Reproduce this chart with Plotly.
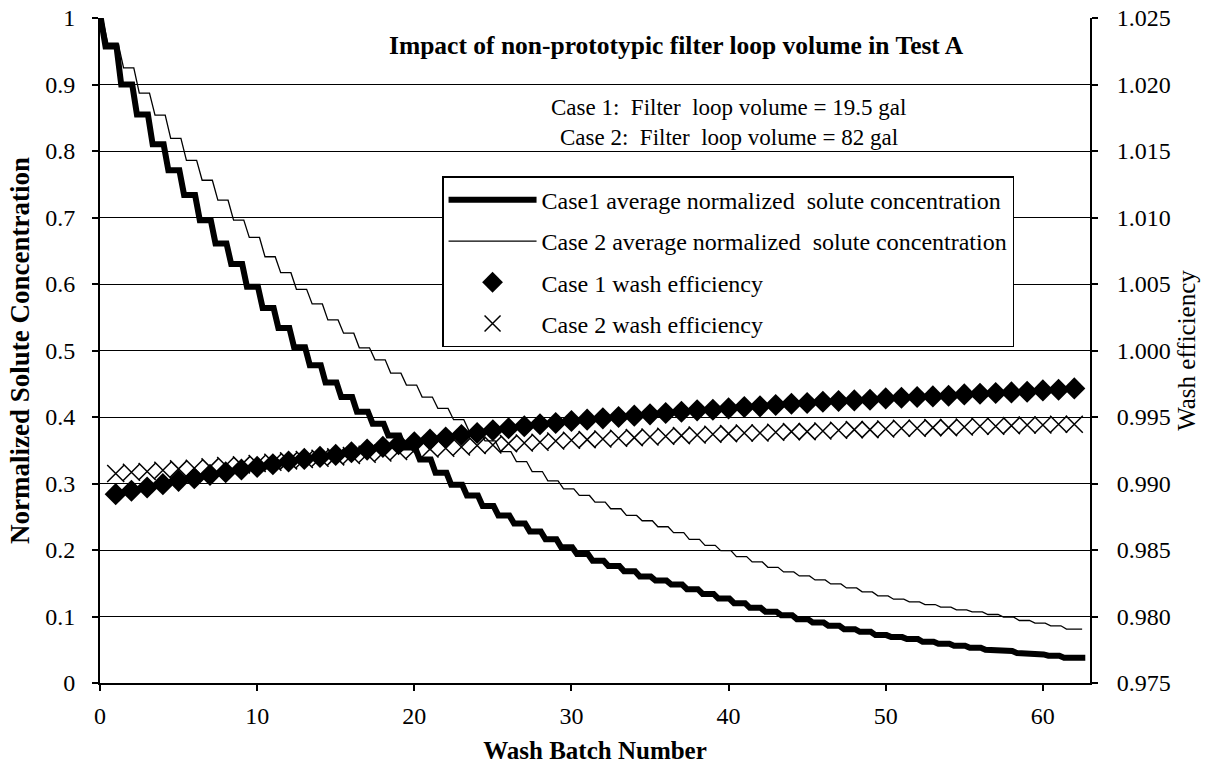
import plotly.graph_objects as go

# ---- data ----
batch = list(range(0, 63))
case1_conc = [1.000, 0.957, 0.900, 0.855, 0.810, 0.771, 0.734, 0.696, 0.661, 0.630,
              0.596, 0.564, 0.534, 0.505, 0.478, 0.452, 0.430, 0.408, 0.390, 0.372,
              0.354, 0.336, 0.316, 0.298, 0.282, 0.266, 0.252, 0.240, 0.228, 0.216,
              0.204, 0.194, 0.184, 0.176, 0.168, 0.160, 0.154, 0.148, 0.141, 0.134,
              0.127, 0.120, 0.113, 0.107, 0.102, 0.096, 0.091, 0.086, 0.081, 0.077,
              0.072, 0.069, 0.066, 0.062, 0.059, 0.056, 0.053, 0.050, 0.048, 0.045,
              0.043, 0.041, 0.038]
case2_conc = [1.000, 0.962, 0.925, 0.887, 0.854, 0.819, 0.786, 0.756, 0.726, 0.696,
              0.670, 0.641, 0.617, 0.592, 0.570, 0.546, 0.526, 0.504, 0.486, 0.466,
              0.448, 0.430, 0.413, 0.396, 0.378, 0.364, 0.348, 0.333, 0.318, 0.304,
              0.292, 0.282, 0.272, 0.262, 0.252, 0.244, 0.235, 0.226, 0.216, 0.207,
              0.199, 0.190, 0.182, 0.174, 0.167, 0.161, 0.155, 0.149, 0.143, 0.137,
              0.131, 0.126, 0.122, 0.118, 0.114, 0.110, 0.107, 0.103, 0.099, 0.094,
              0.090, 0.086, 0.081]

wash_batch = list(range(1, 63))
case1_eff = [0.98920, 0.98945, 0.98970, 0.98995, 0.99020, 0.99040, 0.99065, 0.99085, 0.99105, 0.99125,
             0.99145, 0.99165, 0.99185, 0.99200, 0.99215, 0.99235, 0.99255, 0.99275, 0.99295, 0.99310,
             0.99330, 0.99345, 0.99365, 0.99380, 0.99400, 0.99415, 0.99430, 0.99445, 0.99455, 0.99470,
             0.99480, 0.99490, 0.99500, 0.99510, 0.99520, 0.99530, 0.99540, 0.99550, 0.99555, 0.99565,
             0.99575, 0.99580, 0.99590, 0.99600, 0.99605, 0.99615, 0.99620, 0.99625, 0.99630, 0.99640,
             0.99645, 0.99650, 0.99655, 0.99660, 0.99670, 0.99675, 0.99680, 0.99685, 0.99690, 0.99700,
             0.99705, 0.99715]
case2_eff = [0.99075, 0.99085, 0.99090, 0.99100, 0.99110, 0.99115, 0.99125, 0.99135, 0.99140, 0.99150,
             0.99160, 0.99170, 0.99180, 0.99190, 0.99200, 0.99210, 0.99220, 0.99230, 0.99240, 0.99250,
             0.99260, 0.99265, 0.99275, 0.99285, 0.99290, 0.99300, 0.99305, 0.99310, 0.99320, 0.99325,
             0.99330, 0.99335, 0.99340, 0.99345, 0.99350, 0.99355, 0.99360, 0.99365, 0.99370, 0.99375,
             0.99380, 0.99380, 0.99385, 0.99390, 0.99390, 0.99395, 0.99400, 0.99405, 0.99405, 0.99410,
             0.99415, 0.99415, 0.99420, 0.99420, 0.99425, 0.99430, 0.99430, 0.99435, 0.99440, 0.99440,
             0.99445, 0.99445]

x_ticks = [0, 10, 20, 30, 40, 50, 60]
left_ticks = [0, 0.1, 0.2, 0.3, 0.4, 0.5, 0.6, 0.7, 0.8, 0.9, 1]
right_ticks = [0.975, 0.980, 0.985, 0.990, 0.995, 1.000, 1.005, 1.010, 1.015, 1.020, 1.025]

FONT = "Liberation Serif"


def stair_path(values, drop_start, drop_end, tail):
    """Per-batch values drawn as a staircase: each batch holds its value,
    then the next batch's value is reached over a short slanted drop."""
    xs, ys = [], []
    last = len(values) - 1
    for n, v in enumerate(values):
        start = 0 if n == 0 else n - 1 + drop_end
        end = n + (tail if n == last else drop_start)
        xs += [start, end]
        ys += [v, v]
    return xs, ys


c1x, c1y = stair_path(case1_conc, 0.05, 0.35, 0.7)
c2x, c2y = stair_path(case2_conc, 0.15, 0.5, 0.5)

fig = go.Figure()
fig.add_trace(go.Scatter(x=c1x, y=c1y, mode="lines",
                         line=dict(color="black", width=6),
                         name="Case1 average normalized  solute concentration",
                         legendgroup="a"))
fig.add_trace(go.Scatter(x=c2x, y=c2y, mode="lines",
                         line=dict(color="black", width=1.3),
                         name="Case 2 average normalized  solute concentration",
                         legendgroup="b"))
fig.add_trace(go.Scatter(x=wash_batch, y=case1_eff, mode="markers", yaxis="y2",
                         marker=dict(symbol="diamond", size=17, color="black"),
                         name="Case 1 wash efficiency", legendgroup="c"))
fig.add_trace(go.Scatter(x=wash_batch, y=case2_eff, mode="markers", yaxis="y2",
                         marker=dict(symbol="x-thin-open", size=17, color="black",
                                     line=dict(color="black", width=1.5)),
                         name="Case 2 wash efficiency", legendgroup="d"))

fig.update_layout(
    width=1207, height=778,
    margin=dict(l=100, r=117, t=18, b=95, autoexpand=False),
    paper_bgcolor="white", plot_bgcolor="white",
    font=dict(family=FONT, size=24, color="black"),
    showlegend=True,
    legend=dict(x=0.3455, y=0.762, xanchor="left", yanchor="top",
                bgcolor="white", bordercolor="black", borderwidth=1.5,
                font=dict(family=FONT, size=24, color="black"),
                traceorder="grouped", tracegroupgap=7, itemwidth=88),
    xaxis=dict(range=[0, 63], tickvals=x_ticks, showgrid=False, zeroline=False,
               showline=True, linecolor="black", linewidth=2, automargin=False,
               ticks="outside", ticklen=6, tickwidth=2, tickcolor="black",
               ticklabelstandoff=4,
               title=dict(text="<b>Wash Batch Number</b>", font=dict(size=25), standoff=14)),
    yaxis=dict(range=[0, 1], tickvals=left_ticks, showgrid=True, gridcolor="black",
               gridwidth=1.3, zeroline=False, showline=True, linecolor="black",
               linewidth=2, automargin=False, ticks="outside", ticklen=6, tickwidth=2,
               tickcolor="black", ticklabelstandoff=12,
               title=dict(text="<b>Normalized Solute Concentration</b>", font=dict(size=27),
                          standoff=8)),
    yaxis2=dict(range=[0.975, 1.025], tickvals=right_ticks, tickformat=".3f",
                overlaying="y", side="right", showgrid=False, zeroline=False,
                showline=True, linecolor="black", linewidth=2, automargin=False,
                ticks="outside", ticklen=6, tickwidth=2, tickcolor="black",
                ticklabelstandoff=14,
                title=dict(text="Wash efficiency", font=dict(size=25), standoff=8)),
    annotations=[
        dict(text="<b>Impact of non-prototypic filter loop volume in Test A</b>",
             x=0.582, y=0.959, xref="paper", yref="paper", showarrow=False,
             xanchor="center", yanchor="middle",
             font=dict(family=FONT, size=25.5, color="black")),
        dict(text="Case 1:  Filter  loop volume = 19.5 gal",
             x=0.635, y=0.866, xref="paper", yref="paper", showarrow=False,
             xanchor="center", yanchor="middle",
             font=dict(family=FONT, size=23, color="black")),
        dict(text="Case 2:  Filter  loop volume = 82 gal",
             x=0.635, y=0.82, xref="paper", yref="paper", showarrow=False,
             xanchor="center", yanchor="middle",
             font=dict(family=FONT, size=23, color="black")),
    ],
)

# remove the browser's default 8 px page margin so the figure sits at the window origin
fig.write_html("out.html", config={"displayModeBar": False},
               post_script="document.body.style.margin='0px';")
